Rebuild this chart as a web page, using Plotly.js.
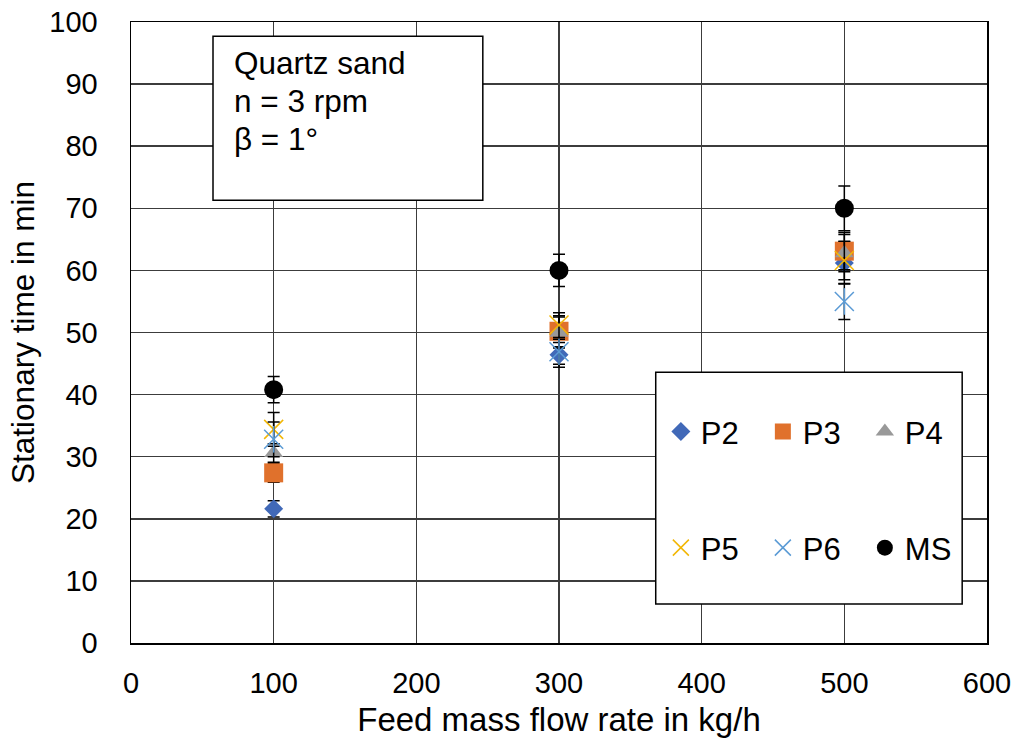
<!DOCTYPE html>
<html>
<head>
<meta charset="utf-8">
<script src="https://cdn.plot.ly/plotly-3.0.1.min.js"></script>
<style>html,body{margin:0;padding:0;background:#fff;}#chart{width:1017px;height:746px;}</style>
</head>
<body>
<div id="chart"></div>
<script>
// Feed mass flow rate in kg/h
var feedRates = [100, 300, 500];
// Stationary time in min, per measuring point
var P2 = [21.6, 46.4, 61.2];
var P2err = [1.3, 2.0, 3.4];
var P3 = [27.4, 50.2, 63.1];
var P3err = [1.5, 2.5, 3.0];
var P4 = [30.6, 50.0, 62.8];
var P4err = [1.5, 2.5, 3.0];
var P5 = [34.4, 51.2, 61.6];
var P5err = [2.7, 2.0, 3.1];
var P6 = [32.8, 46.9, 55.0];
var P6err = [2.8, 2.0, 2.9];
var MS = [40.8, 60.0, 70.0];
var MSerr = [2.1, 2.6, 3.6];

var xTicks = [0, 100, 200, 300, 400, 500, 600];
var yTicks = [0, 10, 20, 30, 40, 50, 60, 70, 80, 90, 100];
var infoLines = ['Quartz sand', 'n = 3 rpm', 'β = 1°'];

var FONT = 'Liberation Sans, Arial, sans-serif';

function errBar(arr) {
  return {type: 'data', array: arr, visible: true, color: '#000', thickness: 1.5, width: 6};
}

function series(name, y, err, symbol, color, size, legendId, lineW) {
  return {
    type: 'scatter', mode: 'markers', name: name, x: feedRates, y: y,
    error_y: errBar(err), legend: legendId,
    marker: {symbol: symbol, size: size, color: color,
             line: {color: color, width: lineW || 0}}
  };
}

var traces = [
  series('P2', P2, P2err, 'diamond', '#4169B8', 14.6, 'legend'),
  series('P3', P3, P3err, 'square', '#E0712C', 19, 'legend'),
  series('P4', P4, P4err, 'triangle-up', '#999999', 16.5, 'legend'),
  series('P5', P5, P5err, 'x-thin-open', '#F2B705', 19, 'legend2', 1.5),
  series('P6', P6, P6err, 'x-thin-open', '#5B9BD5', 19, 'legend2', 1.5),
  {type: 'scatter', mode: 'markers', x: feedRates, y: P6, showlegend: false, hoverinfo: 'skip',
   marker: {symbol: 'line-ns-open', size: 19, color: '#5B9BD5', line: {color: '#5B9BD5', width: 1.5}}},
  series('MS', MS, MSerr, 'circle', '#000000', 19, 'legend2')
];

var legendCommon = {
  orientation: 'h', bgcolor: 'rgba(0,0,0,0)', borderwidth: 0,
  font: {family: FONT, size: 31, color: '#000'},
  xanchor: 'left', yanchor: 'middle', entrywidth: 57, entrywidthmode: 'pixels',
  traceorder: 'normal', itemclick: false
};

var TITLE_FONT = {family: FONT, size: 31.5, color: '#000'};
var XTITLE_FONT = {family: FONT, size: 33, color: '#000'};
var TICK_FONT = {family: FONT, size: 29, color: '#000'};

var annotations = infoLines.map(function (line, i) {
  return {xref: 'paper', yref: 'paper', x: 0.118, y: [0.934, 0.8728, 0.8116][i],
          xanchor: 'left', yanchor: 'middle', align: 'left', showarrow: false,
          text: line, font: TITLE_FONT};
});

var layout = {
  width: 1017, height: 746,
  margin: {l: 131, r: 30, t: 22, b: 103},
  paper_bgcolor: '#fff', plot_bgcolor: '#fff',
  font: {family: FONT, size: 29, color: '#000'},
  showlegend: true,
  xaxis: {
    range: [0, 600], tickvals: xTicks, ticktext: xTicks.map(String),
    showgrid: true, gridcolor: '#3c3c3c', gridwidth: 1.5, zeroline: false,
    showline: true, mirror: true, linecolor: '#000', linewidth: 1.5,
    ticks: '', ticklabelstandoff: 14,
    tickfont: TICK_FONT,
    title: {text: 'Feed mass flow rate in kg/h', font: XTITLE_FONT, standoff: 9}
  },
  yaxis: {
    range: [0, 100], tickvals: yTicks, ticktext: yTicks.map(String),
    showgrid: true, gridcolor: '#3c3c3c', gridwidth: 1.5, zeroline: false,
    showline: true, mirror: true, linecolor: '#000', linewidth: 1.5,
    ticks: '', ticklabelstandoff: 26,
    tickfont: TICK_FONT,
    title: {text: 'Stationary time in min', font: TITLE_FONT, standoff: 5}
  },
  legend: Object.assign({}, legendCommon, {x: 0.619, y: 0.340}),
  legend2: Object.assign({}, legendCommon, {x: 0.619, y: 0.153}),
  shapes: [
    {type: 'rect', xref: 'paper', yref: 'paper', x0: 0.0958, x1: 0.411, y0: 0.713, y1: 0.977,
     line: {color: '#000', width: 1.5}, fillcolor: '#fff', layer: 'above'},
    {type: 'rect', xref: 'paper', yref: 'paper', x0: 0.613, x1: 0.971, y0: 0.0628, y1: 0.436,
     line: {color: '#000', width: 1.5}, fillcolor: '#fff', layer: 'above'}
  ],
  annotations: annotations
};

Plotly.newPlot('chart', traces, layout, {displayModeBar: false, staticPlot: true});
</script>
</body>
</html>
